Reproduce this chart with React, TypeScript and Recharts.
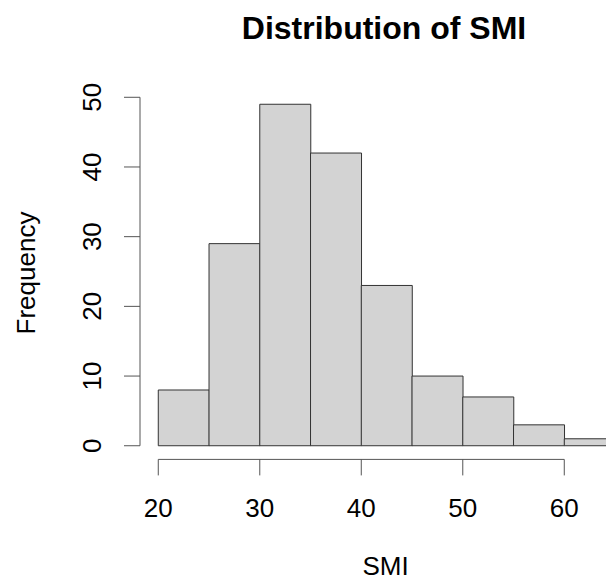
import { BarChart, Bar, XAxis, YAxis, ReferenceLine } from "recharts"

// histogram of SMI, bins of width 5
const breaks = [20, 25, 30, 35, 40, 45, 50, 55, 60, 65]
const counts = [8, 29, 49, 42, 23, 10, 7, 3, 1]
const xTicks = [20, 30, 40, 50, 60]
const yTicks = [0, 10, 20, 30, 40, 50]

const data = counts.map((count, i) => ({
  mid: (breaks[i] + breaks[i + 1]) / 2,
  count,
}))

// R pads the axis ranges by 4% on each side
const xMin = breaks[0]
const xMax = breaks[breaks.length - 1]
const xPad = (xMax - xMin) * 0.04
const yMaxData = Math.max(...counts)
const yPad = yMaxData * 0.04

const FONT = "'Liberation Sans', Arial, Helvetica, sans-serif"
const AXIS = "#555"

function YTick({ x, y, payload }: any) {
  return (
    <text
      transform={`translate(${x - 23},${y}) rotate(-90)`}
      textAnchor="middle"
      fontSize={26}
      fontFamily={FONT}
      fill="#000"
    >
      {payload.value}
    </text>
  )
}

function XTick({ x, y, payload }: any) {
  return (
    <text x={x} y={y + 41.5} textAnchor="middle" fontSize={26} fontFamily={FONT} fill="#000">
      {payload.value}
    </text>
  )
}

export default function App() {
  return (
    <div
      style={{
        position: "fixed",
        left: 0,
        top: 0,
        width: 606,
        height: 580,
        overflow: "hidden",
        background: "#fff",
      }}
    >
      <BarChart
        width={640}
        height={580}
        data={data}
        margin={{ top: 90.6, right: 6.7, bottom: 60.6, left: 60 }}
        barCategoryGap={0}
        barGap={0}
      >
        <XAxis
          dataKey="mid"
          type="number"
          domain={[xMin - xPad, xMax + xPad]}
          ticks={xTicks}
          height={60}
          axisLine={false}
          tickLine={{ stroke: AXIS }}
          tickSize={16}
          tickMargin={0}
          tick={<XTick />}
          interval={0}
        />
        <YAxis
          type="number"
          domain={[-yPad, yMaxData + yPad]}
          ticks={yTicks}
          width={80}
          axisLine={false}
          tickLine={{ stroke: AXIS }}
          tickSize={16}
          tickMargin={0}
          tick={<YTick />}
          interval={0}
        />
        <ReferenceLine
          segment={[
            { x: xTicks[0], y: -yPad },
            { x: xTicks[xTicks.length - 1], y: -yPad },
          ]}
          stroke={AXIS}
          ifOverflow="visible"
        />
        <ReferenceLine
          segment={[
            { x: xMin - xPad, y: yTicks[0] },
            { x: xMin - xPad, y: yTicks[yTicks.length - 1] },
          ]}
          stroke={AXIS}
          ifOverflow="visible"
        />
        <Bar
          dataKey="count"
          fill="#d3d3d3"
          stroke="#333"
          strokeWidth={1}
          isAnimationActive={false}
        />
      </BarChart>
      <svg
        width={606}
        height={580}
        style={{ position: "absolute", left: 0, top: 0, pointerEvents: "none" }}
      >
        <text x={384} y={39} textAnchor="middle" fontSize={32} fontWeight="bold" fontFamily={FONT}>
          Distribution of SMI
        </text>
        <text x={385.5} y={574.5} textAnchor="middle" fontSize={26} fontFamily={FONT}>
          SMI
        </text>
        <text
          transform="translate(35,273) rotate(-90)"
          textAnchor="middle"
          fontSize={26}
          fontFamily={FONT}
        >
          Frequency
        </text>
      </svg>
    </div>
  )
}
